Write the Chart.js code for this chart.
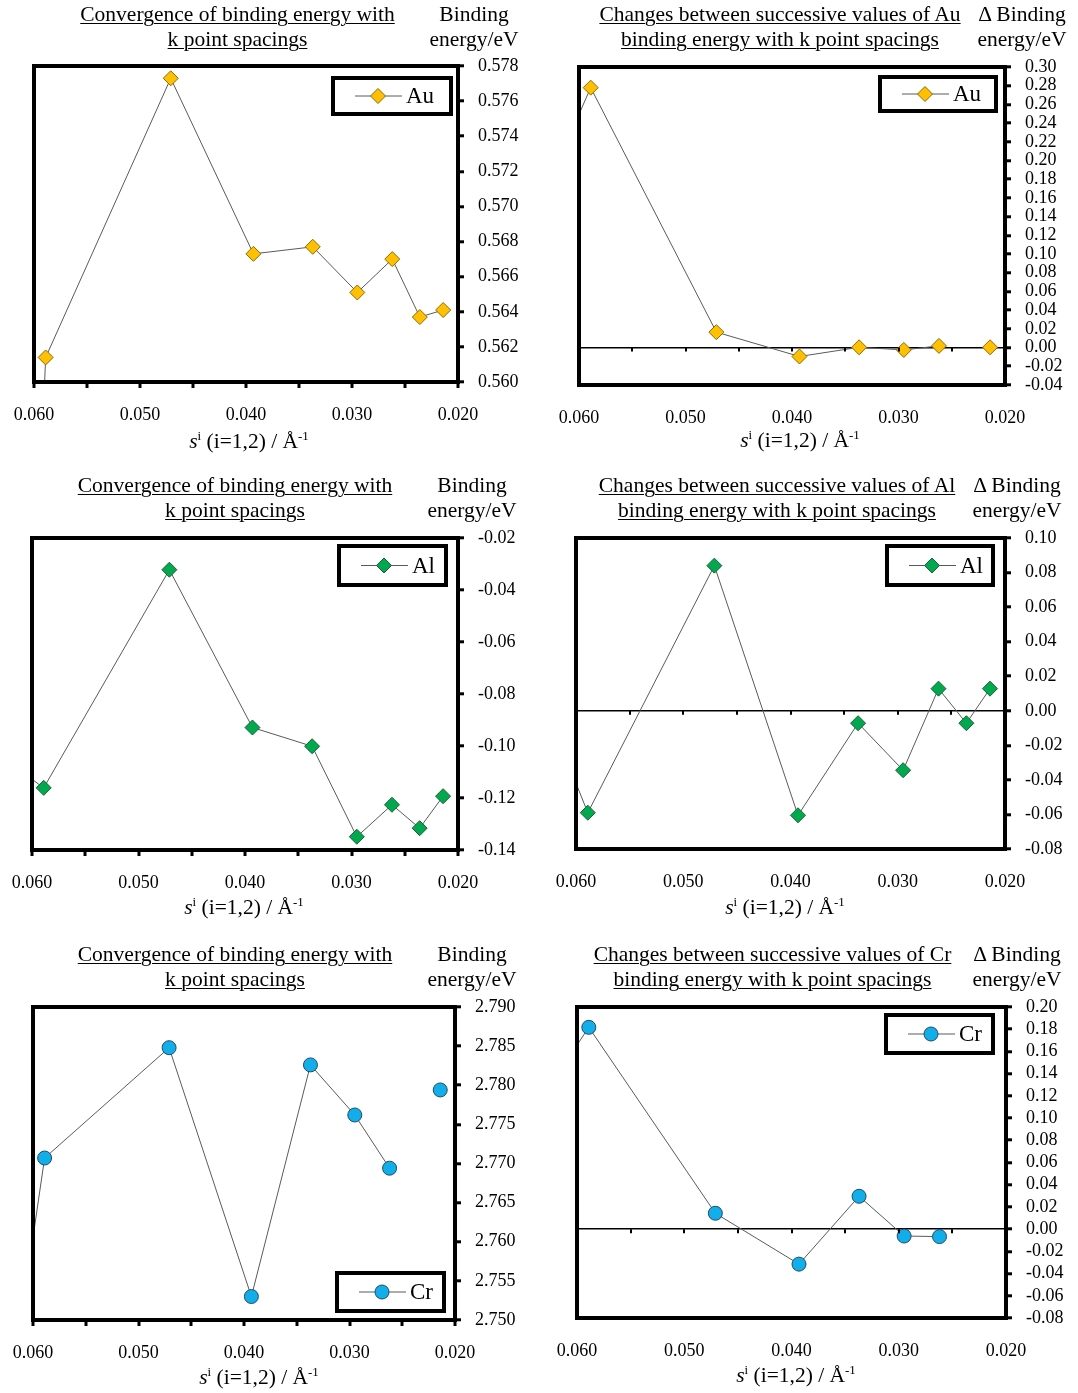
<!DOCTYPE html>
<html>
<head>
<meta charset="utf-8">
<title>Binding energy convergence with k point spacing</title>
<script src="https://cdn.jsdelivr.net/npm/chart.js@4.4.1/dist/chart.umd.min.js"></script>
<style>
  html, body { margin: 0; padding: 0; background: #fff; }
  #page {
    position: relative; width: 1078px; height: 1393px; overflow: hidden;
    font-family: 'Liberation Serif', 'Times New Roman', Times, serif; color: #000;
  }
  .t {
    position: absolute; font-size: 21.5px; line-height: 25px; white-space: nowrap;
    text-align: center; transform: translateX(-50%);
  }
  .u { text-decoration: underline; text-decoration-thickness: 1px; text-underline-offset: 2px; }
  .t sup { font-size: 0.6em; line-height: 0; vertical-align: baseline; position: relative; top: -0.6em; }
  canvas { position: absolute; }
</style>
</head>
<body>
<div id="page"></div>
<script>
// k point spacing s (1/Å); the first entry lies beyond the plotted range
const spacing  = [0.0786, 0.0589, 0.0471, 0.0393, 0.0337, 0.0295, 0.0262, 0.0236, 0.0214];

// binding energies (eV) and changes between successive values (eV)
const auEnergy = [0.2840, 0.5614, 0.5773, 0.5673, 0.5677, 0.5651, 0.5670, 0.5637, 0.5641];
const auChange = [-0.230, 0.2779, 0.0165, -0.0095, 0.0003, -0.0025, 0.0018, null, 0.0003];
const alEnergy = [-0.057, -0.1161, -0.0322, -0.0929, -0.1001, -0.1349, -0.1226, -0.1316, -0.1193];
const alChange = [0.246, -0.0590, 0.0840, -0.0605, -0.0072, -0.0344, 0.0128, -0.0072, 0.0128];
const crEnergy = [2.589, 2.7707, 2.7848, 2.7530, 2.7826, 2.7762, 2.7694, null, 2.7794];
const crChange = [-0.104, 0.1817, 0.0143, -0.0315, 0.0296, -0.0062, -0.0067, null, null];

// axis ranges: [min, max, step]
const xAxisRange      = [0.020, 0.060, 0.005];
const auEnergyAxis    = [0.560, 0.578, 0.002];
const auChangeAxis    = [-0.04, 0.30, 0.02];
const alEnergyAxis    = [-0.14, -0.02, 0.02];
const alChangeAxis    = [-0.08, 0.10, 0.02];
const crEnergyAxis    = [2.750, 2.790, 0.005];
const crChangeAxis    = [-0.08, 0.20, 0.02];

// text
const convTitle   = ['Convergence of binding energy with', 'k point spacings'];
const changeTitle = el => ['Changes between successive values of ' + el, 'binding energy with k point spacings'];
const convYTitle   = ['Binding', 'energy/eV'];
const changeYTitle = ['\u0394 Binding', 'energy/eV'];
const xTitleHtml = '<i>s</i><sup>i</sup> (i=1,2) / \u00C5<sup>-1</sup>';

const FONT = "'Liberation Serif','Times New Roman',Times,serif";

const series = {
  Au: { fill: '#FFC000', edge: '#8a6a0c', marker: 'diamond', r: 7.5 },
  Al: { fill: '#00A84F', edge: '#1f5f33', marker: 'diamond', r: 7.5 },
  Cr: { fill: '#12AEEA', edge: '#234a66', marker: 'circle',  r: 7 }
};

// layout of the six panels (plot box in page pixels, text anchors, legend box)
const panels = [
  { el: 'Au', values: auEnergy, axis: auEnergyAxis, dec: 3, change: false,
    box: [34, 66, 458, 382], title: [237.5, 2], yTitle: 474, xTitle: [249, 429],
    legend: { corner: 'tr', dx: 5, dy: 10, w: 122, h: 40 } },
  { el: 'Au', values: auChange, axis: auChangeAxis, dec: 2, change: true,
    box: [579, 67, 1005, 385], title: [780, 2], yTitle: 1022, xTitle: [800, 428],
    legend: { corner: 'tr', dx: 7, dy: 8, w: 120, h: 38 } },
  { el: 'Al', values: alEnergy, axis: alEnergyAxis, dec: 2, change: false,
    box: [32, 538, 458, 850], title: [235, 473], yTitle: 472, xTitle: [244, 895],
    legend: { corner: 'tr', dx: 10, dy: 6, w: 111, h: 43 } },
  { el: 'Al', values: alChange, axis: alChangeAxis, dec: 2, change: true,
    box: [576, 538, 1005, 849], title: [777, 473], yTitle: 1017, xTitle: [785, 895],
    legend: { corner: 'tr', dx: 10, dy: 6, w: 110, h: 43 } },
  { el: 'Cr', values: crEnergy, axis: crEnergyAxis, dec: 3, change: false,
    box: [33, 1007, 455, 1320], title: [235, 942], yTitle: 472, xTitle: [259, 1365],
    legend: { corner: 'br', dx: 9, dy: 7, w: 111, h: 42 } },
  { el: 'Cr', values: crChange, axis: crChangeAxis, dec: 2, change: true,
    box: [577, 1007, 1006, 1318], title: [772.5, 942], yTitle: 1017, xTitle: [796, 1363],
    legend: { corner: 'tr', dx: 11, dy: 6, w: 111, h: 42 } }
];

const page = document.getElementById('page');

function addText(html, cx, top, cls) {
  const d = document.createElement('div');
  d.className = 't' + (cls ? ' ' + cls : '');
  d.style.left = cx + 'px';
  d.style.top = top + 'px';
  d.innerHTML = html;
  page.appendChild(d);
}

function drawMarker(ctx, style, x, y, r) {
  ctx.beginPath();
  if (style === 'circle') {
    ctx.arc(x, y, r, 0, Math.PI * 2);
  } else {
    ctx.moveTo(x - r, y); ctx.lineTo(x, y - r); ctx.lineTo(x + r, y); ctx.lineTo(x, y + r);
    ctx.closePath();
  }
  ctx.fill();
  ctx.stroke();
}

// frame, x tick marks and the boxed legend
const framePlugin = {
  id: 'frame',
  afterDatasetsDraw(chart, args, o) {
    const { ctx, chartArea: a } = chart;
    const xs = chart.scales.x, ys = chart.scales.y;
    ctx.save();

    const base = o.zeroAxis ? ys.getPixelForValue(0) : a.bottom;
    ctx.strokeStyle = '#000';
    ctx.lineWidth = o.zeroAxis ? 2 : 3;
    const len = o.zeroAxis ? 4 : 6;
    xs.ticks.forEach(t => {
      const px = Math.round(xs.getPixelForValue(t.value));
      ctx.beginPath(); ctx.moveTo(px, base); ctx.lineTo(px, base + len); ctx.stroke();
    });

    ctx.lineWidth = 4;
    ctx.strokeRect(a.left, a.top, a.width, a.height);

    const L = o.legend, s = series[o.el], ds = chart.data.datasets[0];
    const bx = a.right - L.dx - L.w;
    const by = L.corner === 'br' ? a.bottom - L.dy - L.h : a.top + L.dy;
    ctx.fillStyle = '#fff';
    ctx.fillRect(bx, by, L.w, L.h);
    ctx.strokeStyle = '#000';
    ctx.lineWidth = 4;
    ctx.strokeRect(bx + 2, by + 2, L.w - 4, L.h - 4);
    const cy = by + L.h / 2;
    ctx.strokeStyle = ds.borderColor;
    ctx.lineWidth = ds.borderWidth;
    ctx.beginPath(); ctx.moveTo(bx + 24, cy); ctx.lineTo(bx + 71, cy); ctx.stroke();
    ctx.fillStyle = s.fill;
    ctx.strokeStyle = s.edge;
    ctx.lineWidth = 1;
    drawMarker(ctx, s.marker, bx + 47, cy, s.r);
    ctx.fillStyle = '#000';
    ctx.font = '23px ' + FONT;
    ctx.textBaseline = 'middle';
    ctx.textAlign = 'left';
    ctx.fillText(ds.label, bx + 75, cy + 1);
    ctx.restore();
  }
};

function fmt(v, dec) {
  if (Math.abs(v) < 1e-9) v = 0;
  return v.toFixed(dec);
}

panels.forEach(p => {
  const s = series[p.el];
  const [L, T, R, B] = p.box;
  // outer padding must exceed the tick-label overflow so the plot box lands where intended
  const padL = 50, padT = 32, axisW = 90, axisH = 60;
  const W = (R - L) + padL + axisW;
  const H = (B - T) + padT + axisH;

  const cv = document.createElement('canvas');
  cv.width = W; cv.height = H;
  cv.style.left = (L - padL) + 'px';
  cv.style.top = (T - padT) + 'px';
  cv.style.width = W + 'px';
  cv.style.height = H + 'px';
  page.appendChild(cv);

  new Chart(cv, {
    type: 'line',
    data: {
      datasets: [{
        label: p.el,
        data: spacing.map((x, i) => ({ x: x, y: p.values[i] })),
        borderColor: '#5a5a5a',
        borderWidth: 1,
        pointStyle: s.marker === 'circle' ? 'circle' : 'rectRot',
        pointRadius: s.r,
        pointBackgroundColor: s.fill,
        pointBorderColor: s.edge,
        pointBorderWidth: 1,
        tension: 0,
        spanGaps: false,
        clip: 1
      }]
    },
    options: {
      responsive: false,
      animation: false,
      devicePixelRatio: 1,
      layout: { padding: { left: padL, top: padT, right: 0, bottom: 0 } },
      plugins: {
        legend: { display: false },
        tooltip: { enabled: false },
        title: { display: false },
        frame: { zeroAxis: p.change, legend: p.legend, el: p.el }
      },
      scales: {
        x: {
          type: 'linear', position: 'bottom', reverse: true,
          min: xAxisRange[0], max: xAxisRange[1],
          afterFit: sc => { sc.height = axisH; },
          border: { display: false },
          grid: { drawOnChartArea: false, drawTicks: true, tickLength: 4, color: 'rgba(0,0,0,0)' },
          ticks: {
            stepSize: xAxisRange[2], autoSkip: false, maxRotation: 0, minRotation: 0,
            padding: 18, color: '#000', font: { family: FONT, size: 18 },
            callback: v => (Math.round(v * 1000) % 10 === 0 ? fmt(v, 3) : '')
          }
        },
        y: {
          type: 'linear', position: 'right',
          min: p.axis[0], max: p.axis[1],
          afterFit: sc => { sc.width = axisW; },
          border: { display: false },
          grid: {
            drawOnChartArea: true, drawTicks: true, tickLength: 6,
            tickColor: '#000', tickWidth: 3, lineWidth: 1.6,
            color: c => (c.tick && Math.abs(c.tick.value) < 1e-9 ? '#000' : 'rgba(0,0,0,0)')
          },
          ticks: {
            stepSize: p.axis[2], autoSkip: false,
            padding: 14, color: '#000', font: { family: FONT, size: 18 },
            callback: v => fmt(v, p.dec)
          }
        }
      }
    },
    plugins: [framePlugin]
  });

  const title = p.change ? changeTitle(p.el) : convTitle;
  addText(title.join('<br>'), p.title[0], p.title[1], 'u');
  addText((p.change ? changeYTitle : convYTitle).join('<br>'), p.yTitle, p.title[1]);
  addText(xTitleHtml, p.xTitle[0], p.xTitle[1]);
});
</script>
</body>
</html>
